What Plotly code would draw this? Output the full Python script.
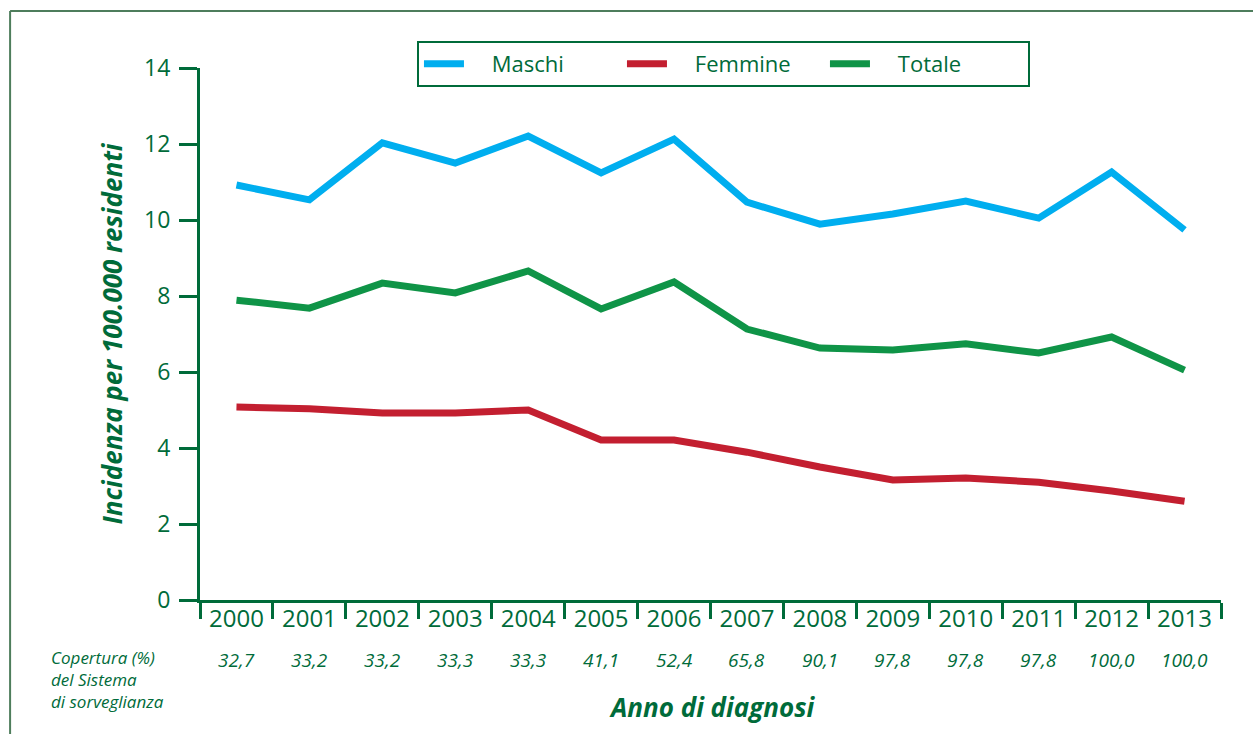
import plotly.graph_objects as go

years = ["2000", "2001", "2002", "2003", "2004", "2005", "2006",
         "2007", "2008", "2009", "2010", "2011", "2012", "2013"]
maschi = [10.92, 10.53, 12.03, 11.50, 12.21, 11.24, 12.13,
          10.47, 9.89, 10.16, 10.50, 10.05, 11.26, 9.74]
femmine = [5.08, 5.03, 4.92, 4.92, 5.00, 4.21, 4.21,
           3.89, 3.50, 3.16, 3.21, 3.10, 2.87, 2.60]
totale = [7.89, 7.68, 8.34, 8.08, 8.66, 7.66, 8.37,
          7.13, 6.63, 6.58, 6.74, 6.50, 6.92, 6.05]
copertura = ["32,7", "33,2", "33,2", "33,3", "33,3", "41,1", "52,4",
             "65,8", "90,1", "97,8", "97,8", "97,8", "100,0", "100,0"]

GREEN = "#006b3a"
FONT = "Open Sans"
PAD = "\u00a0" * 4

fig = go.Figure()
for name, vals, col in [("Maschi", maschi, "#00aeef"),
                        ("Femmine", femmine, "#c31f30"),
                        ("Totale", totale, "#0f9447")]:
    fig.add_trace(go.Scatter(x=years, y=vals, name=PAD + name, mode="lines",
                             line=dict(color=col, width=7)))

for i, c in enumerate(copertura):
    fig.add_annotation(x=i, y=-0.113, xref="x", yref="paper",
                       xanchor="center", yanchor="middle",
                       text=c, showarrow=False,
                       font=dict(family=FONT, size=19, color=GREEN, style="italic"))

fig.add_annotation(xref="paper", yref="paper", x=-0.148, y=-0.083,
                   xanchor="left", yanchor="top", align="left",
                   text="Copertura (%)<br>del Sistema<br>di sorveglianza",
                   showarrow=False,
                   font=dict(family=FONT, size=17, color=GREEN, style="italic"))
fig.add_annotation(xref="paper", yref="paper", x=0.5015, y=-0.201,
                   xanchor="center", yanchor="middle",
                   text="Anno di diagnosi", showarrow=False,
                   font=dict(family=FONT, size=26, color=GREEN, style="italic", weight="bold"))

# outer frame (top and left)
fig.add_shape(type="line", xref="paper", yref="paper", x0=-0.186, x1=1.04, y0=1.107, y1=1.107,
              line=dict(color="#4e7d5c", width=2))
fig.add_shape(type="line", xref="paper", yref="paper", x0=-0.186, x1=-0.186, y0=1.107, y1=-0.26,
              line=dict(color="#4e7d5c", width=2))

fig.update_layout(
    width=1253, height=734,
    margin=dict(l=200, r=32, t=68, b=134),
    paper_bgcolor="white", plot_bgcolor="white",
    font=dict(family=FONT, color=GREEN),
    legend=dict(orientation="h", x=0.2125, y=1.0075, xanchor="left", yanchor="middle",
                bordercolor=GREEN, borderwidth=2, bgcolor="white",
                font=dict(family=FONT, size=22, color=GREEN),
                entrywidth=148, itemwidth=40),
    xaxis=dict(type="category", range=[-0.5, 13.5], showgrid=False,
               showline=True, linecolor=GREEN, linewidth=3,
               ticks="outside", tickson="boundaries", ticklen=16, tickwidth=3,
               tickcolor=GREEN, ticklabelstandoff=-5,
               tickfont=dict(family=FONT, size=24, color=GREEN)),
    yaxis=dict(range=[0, 14], tickvals=[0, 2, 4, 6, 8, 10, 12, 14], showgrid=False,
               zeroline=False, showline=True, linecolor=GREEN, linewidth=3,
               ticks="outside", ticklen=18, tickwidth=3, tickcolor=GREEN,
               ticklabelstandoff=4,
               tickfont=dict(family=FONT, size=23, color=GREEN),
               title=dict(text="Incidenza per 100.000 residenti", standoff=14,
                          font=dict(family=FONT, size=26, color=GREEN,
                                    style="italic", weight="bold"))),
)

fig.write_html("out.html", config={"displayModeBar": False},
               post_script="document.body.style.margin='0';")
